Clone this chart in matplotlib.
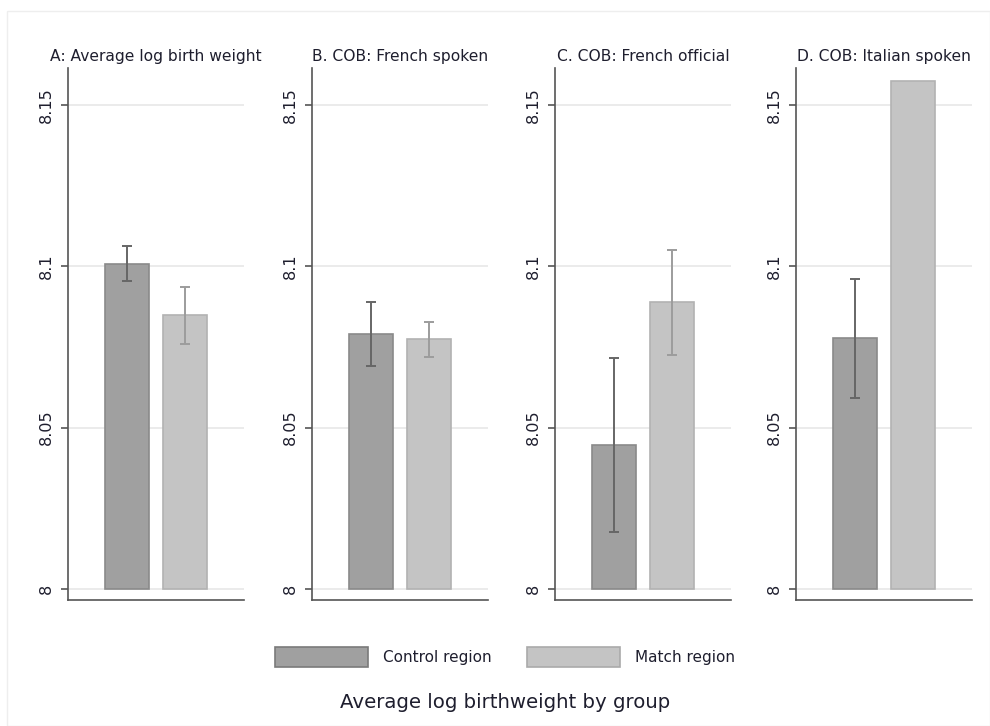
import numpy as np
import matplotlib.pyplot as plt
import matplotlib.patches as patches

panel_titles = ['A: Average log birth weight', 'B. COB: French spoken',
                'C. COB: French official', 'D. COB: Italian spoken']
groups = ['Control region', 'Match region']

# mean log birth weight per panel, and half-width of the confidence band
control_mean = [8.1008, 8.0791, 8.0446, 8.0777]
control_err = [0.0054, 0.0099, 0.0270, 0.0184]
match_mean = [8.0848, 8.0773, 8.0888, 8.1574]
match_err = [0.0089, 0.0054, 0.0163, np.nan]

yticks = [8.0, 8.05, 8.1, 8.15]
ytick_labels = ['8', '8.05', '8.1', '8.15']

bar_fc = ['#a0a0a0', '#c4c4c4']
bar_ec = ['#8a8a8a', '#b2b2b2']
err_c = ['#666666', '#9c9c9c']

fig = plt.figure(figsize=(9.9, 7.26), dpi=100)
W, H = 990, 726

# faint frame round the whole graph
fig.add_artist(patches.Rectangle((7 / W, 0), 1 - 7 / W, 1 - 11 / H, transform=fig.transFigure,
                                 fill=False, edgecolor='#eeeeee', linewidth=1))

lefts = [68, 312, 555, 796]
for i, left in enumerate(lefts):
    ax = fig.add_axes([left / W, 1 - 600 / H, 176 / W, 532 / H])
    means = [control_mean[i], match_mean[i]]
    errs = [control_err[i], match_err[i]]
    for j in range(2):
        ax.bar(j + 1, means[j] - 8.0, bottom=8.0, width=0.75, color=bar_fc[j],
               edgecolor=bar_ec[j], linewidth=1.2, zorder=2)
        if not np.isnan(errs[j]):
            ax.errorbar(j + 1, means[j], yerr=errs[j], color=err_c[j], elinewidth=1.4,
                        capsize=3.5, capthick=1.4, zorder=3)
    ax.set_xlim(0, 3)
    ax.set_ylim(7.9965, 8.1615)
    ax.set_yticks(yticks)
    ax.set_yticklabels(ytick_labels, rotation=90, va='center', fontsize=11.5, color='#1e1e2e')
    ax.set_xticks([])
    ax.grid(axis='y', color='#e8e8e8', linewidth=1.2, zorder=0)
    ax.set_axisbelow(True)
    for s in ['top', 'right']:
        ax.spines[s].set_visible(False)
    for s in ['left', 'bottom']:
        ax.spines[s].set_color('#555555')
        ax.spines[s].set_linewidth(1.2)
    ax.tick_params(axis='y', length=5, width=1.2, color='#555555', pad=5)
    ax.set_title(panel_titles[i], fontsize=11.2, color='#1e1e2e', pad=5)

handles = [patches.Patch(facecolor=bar_fc[k], edgecolor='#7a7a7a' if k == 0 else '#aaaaaa',
                         linewidth=1.2) for k in range(2)]
fig.legend(handles, groups, loc='center', bbox_to_anchor=(505 / W, 1 - 657 / H), ncol=2,
           frameon=False, fontsize=11, handlelength=6.1, handleheight=1.57,
           handletextpad=1.0, columnspacing=2.3, labelcolor='#1e1e2e')

fig.text(505 / W, 1 - 703 / H, 'Average log birthweight by group', ha='center', va='center',
         fontsize=14.2, color='#1e1e2e')

fig.savefig('out.png', dpi=100, facecolor='white')
